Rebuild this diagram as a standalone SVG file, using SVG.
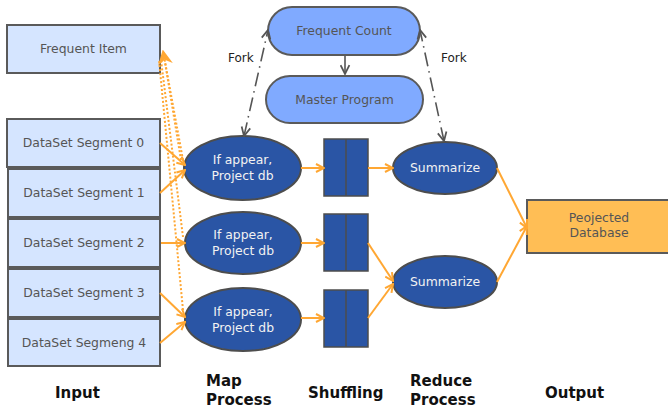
<svg xmlns="http://www.w3.org/2000/svg" width="668" height="409" viewBox="0 0 668 409">
  <defs>
    <style>
      .box { fill: #d5e5ff; stroke: #5a5a5a; stroke-width: 2; }
      .pill { fill: #80aaff; stroke: #5a5a5a; stroke-width: 2; }
      .map { fill: #2a55a5; stroke: #4d4d4d; stroke-width: 2; }
      .shuf { fill: #2a55a5; stroke: #4d4d4d; stroke-width: 1.5; }
      .out { fill: #ffbe55; stroke: #5a5a5a; stroke-width: 2; }
      .lbl { font-family: "DejaVu Sans", Verdana, sans-serif; font-size: 12.4px; fill: #555; text-anchor: middle; }
      .wlbl { font-family: "DejaVu Sans", Verdana, sans-serif; font-size: 12.4px; fill: #f2f2f2; text-anchor: middle; }
      .fork { font-family: "DejaVu Sans", Verdana, sans-serif; font-size: 12px; fill: #222; }
      .col { font-family: "DejaVu Sans", Verdana, sans-serif; font-size: 15px; font-weight: bold; fill: #111; }
      .flow { fill: none; stroke: #ffa733; stroke-width: 2; marker-end: url(#orangeHead); }
      .dotted { fill: none; stroke: #ffa733; stroke-width: 2; stroke-dasharray: 2 2; }
      .ctrl { fill: none; stroke: #555; stroke-width: 1.6; stroke-dasharray: 14 5 1.5 5; }
    </style>
    <marker id="orangeHead" viewBox="0 0 10 10" refX="9" refY="5" markerWidth="10" markerHeight="10" markerUnits="userSpaceOnUse" orient="auto">
      <path d="M1,1 L9,5 L1,9" fill="none" stroke="#ffa733" stroke-width="2"/>
    </marker>
    <marker id="orangeFill" viewBox="0 0 10 10" refX="9" refY="5" markerWidth="15" markerHeight="15" markerUnits="userSpaceOnUse" orient="auto">
      <path d="M0,0 L10,5 L0,10 L3,5 Z" fill="#ffa733"/>
    </marker>
    <marker id="grayHead" viewBox="0 0 10 10" refX="9" refY="5" markerWidth="11" markerHeight="11" markerUnits="userSpaceOnUse" orient="auto-start-reverse">
      <path d="M1,1 L9,5 L1,9" fill="none" stroke="#555" stroke-width="1.6"/>
    </marker>
  </defs>

  <rect width="668" height="409" fill="#ffffff"/>

  <!-- input column -->
  <g id="frequent-item">
    <rect class="box" x="7" y="25" width="153" height="48"/>
    <text class="lbl" x="83.5" y="53">Frequent Item</text>
  </g>
  <g id="segment-0">
    <rect class="box" x="7" y="119" width="153" height="48"/>
    <text class="lbl" x="83.5" y="147">DataSet Segment 0</text>
  </g>
  <g id="segment-1">
    <rect class="box" x="8" y="169" width="152" height="48"/>
    <text class="lbl" x="84" y="197">DataSet Segment 1</text>
  </g>
  <g id="segment-2">
    <rect class="box" x="8" y="219" width="152" height="48"/>
    <text class="lbl" x="84" y="247">DataSet Segment 2</text>
  </g>
  <g id="segment-3">
    <rect class="box" x="8" y="269" width="152" height="48"/>
    <text class="lbl" x="84" y="297">DataSet Segment 3</text>
  </g>
  <g id="segment-4">
    <rect class="box" x="8" y="319" width="152" height="47"/>
    <text class="lbl" x="84" y="347">DataSet Segmeng 4</text>
  </g>

  <!-- control nodes -->
  <g id="frequent-count">
    <rect class="pill" x="268" y="7" width="152" height="48" rx="24" ry="24"/>
    <text class="lbl" x="344" y="35">Frequent Count</text>
  </g>
  <g id="master-program">
    <rect class="pill" x="266" y="76" width="157" height="47" rx="24" ry="23.5"/>
    <text class="lbl" x="344.5" y="104">Master Program</text>
  </g>

  <!-- map column -->
  <g id="map-0">
    <ellipse class="map" cx="242.5" cy="168" rx="58.5" ry="32"/>
    <text class="wlbl" x="242.5" y="164">If appear,</text>
    <text class="wlbl" x="242.5" y="180">Project db</text>
  </g>
  <g id="map-1">
    <ellipse class="map" cx="243" cy="243" rx="58" ry="31"/>
    <text class="wlbl" x="243" y="239">If appear,</text>
    <text class="wlbl" x="243" y="255">Project db</text>
  </g>
  <g id="map-2">
    <ellipse class="map" cx="243" cy="319.5" rx="58" ry="31.5"/>
    <text class="wlbl" x="243" y="316">If appear,</text>
    <text class="wlbl" x="243" y="332">Project db</text>
  </g>

  <!-- shuffling column -->
  <g id="shuffle-0">
    <rect class="shuf" x="324" y="139" width="44" height="57"/>
    <line x1="346" y1="139" x2="346" y2="196" stroke="#4d4d4d" stroke-width="1.5"/>
  </g>
  <g id="shuffle-1">
    <rect class="shuf" x="324" y="214" width="44" height="57"/>
    <line x1="346" y1="214" x2="346" y2="271" stroke="#4d4d4d" stroke-width="1.5"/>
  </g>
  <g id="shuffle-2">
    <rect class="shuf" x="324" y="290" width="44" height="57"/>
    <line x1="346" y1="290" x2="346" y2="347" stroke="#4d4d4d" stroke-width="1.5"/>
  </g>

  <!-- reduce column -->
  <g id="reduce-0">
    <ellipse class="map" cx="445" cy="168" rx="52" ry="26"/>
    <text class="wlbl" x="445" y="172">Summarize</text>
  </g>
  <g id="reduce-1">
    <ellipse class="map" cx="445" cy="282" rx="52" ry="26"/>
    <text class="wlbl" x="445" y="286">Summarize</text>
  </g>

  <!-- output -->
  <g id="projected-database">
    <rect class="out" x="527" y="200" width="145" height="53"/>
    <text class="lbl" x="599" y="222">Peojected</text>
    <text class="lbl" x="599" y="237">Database</text>
  </g>

  <!-- connectors, drawn over the node outlines -->
  <g id="connectors">
    <!-- feedback of frequent items -->
    <path class="dotted" d="M183,160 L163,51" marker-end="url(#orangeFill)"/>
    <path class="dotted" d="M183,237 L161,60"/>
    <path class="dotted" d="M183,310 L159,60"/>
    <path class="dotted" d="M181,160 L165,62"/>
    <!-- fork control lines -->
    <path class="ctrl" d="M244,136 L268,30" marker-start="url(#grayHead)" marker-end="url(#grayHead)"/>
    <path class="ctrl" d="M444,141 L420,30" marker-start="url(#grayHead)" marker-end="url(#grayHead)"/>
    <path d="M345,56 L345,74" fill="none" stroke="#555" stroke-width="1.6" marker-end="url(#grayHead)"/>
    <!-- input to map -->
    <path class="flow" d="M160,143 L185,165"/>
    <path class="flow" d="M160,193 L185,170"/>
    <path class="flow" d="M161,243 L185,243"/>
    <path class="flow" d="M160,293 L185,317"/>
    <path class="flow" d="M160,343 L185,322"/>
    <!-- map to shuffling -->
    <path class="flow" d="M301,168 L324,168"/>
    <path class="flow" d="M301,243 L324,243"/>
    <path class="flow" d="M301,318 L324,318"/>
    <!-- shuffling to reduce -->
    <path class="flow" d="M368,168 L393,168"/>
    <path class="flow" d="M368,243 L393,281"/>
    <path class="flow" d="M368,318 L393,284"/>
    <!-- reduce to output -->
    <path class="flow" d="M497,168 L527,228"/>
    <path class="flow" d="M497,282 L527,226"/>
  </g>

  <!-- fork labels -->
  <text class="fork" x="228" y="62">Fork</text>
  <text class="fork" x="441" y="62">Fork</text>

  <!-- column titles -->
  <g id="column-titles">
    <text class="col" x="55" y="398">Input</text>
    <text class="col" x="206" y="386">Map</text>
    <text class="col" x="206" y="405">Process</text>
    <text class="col" x="308" y="398">Shuffling</text>
    <text class="col" x="410" y="386">Reduce</text>
    <text class="col" x="410" y="405">Process</text>
    <text class="col" x="545" y="398">Output</text>
  </g>
</svg>
